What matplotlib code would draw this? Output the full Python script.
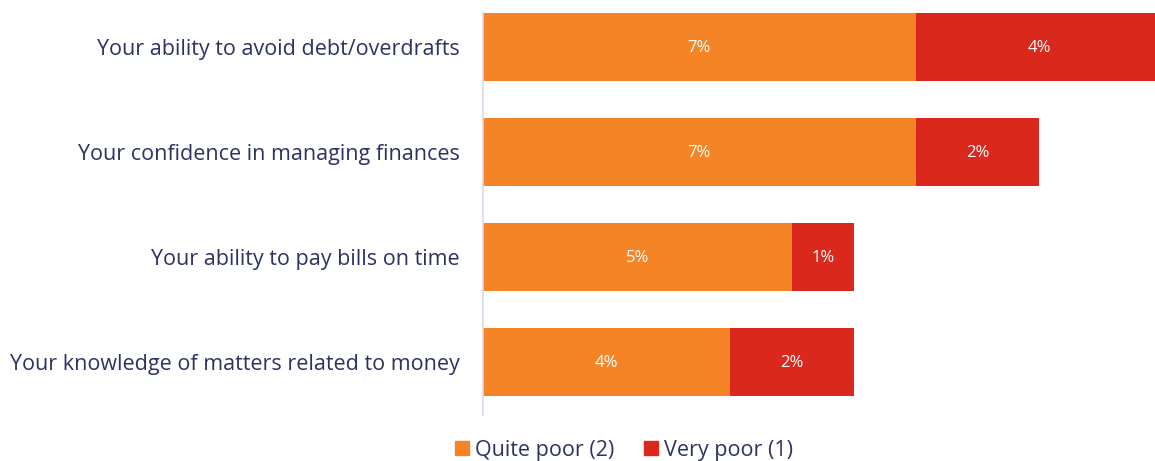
import matplotlib
matplotlib.use("Agg")
import matplotlib.pyplot as plt
from matplotlib.patches import Patch

plt.rcParams["font.family"] = ["Open Sans", "DejaVu Sans"]

categories = [
    "Your ability to avoid debt/overdrafts",
    "Your confidence in managing finances",
    "Your ability to pay bills on time",
    "Your knowledge of matters related to money",
]
quite_poor = [7, 7, 5, 4]
very_poor = [4, 2, 1, 2]

ORANGE = "#F58426"
RED = "#DA291C"
NAVY = "#2D3361"

fig = plt.figure(figsize=(11.55, 4.61), dpi=100)
ax = fig.add_axes([483 / 1155, 1 - 415 / 461, 1 - 483 / 1155, (415 - 13) / 461])

y = list(range(len(categories)))
h = 0.65
ax.barh(y, quite_poor, height=h, color=ORANGE, edgecolor="none")
ax.barh(y, very_poor, left=quite_poor, height=h, color=RED, edgecolor="none")

for i in y:
    ax.text(quite_poor[i] / 2, i + 0.01, f"{quite_poor[i]}%", ha="center", va="center",
            color="white", fontsize=12)
    ax.text(quite_poor[i] + very_poor[i] / 2, i + 0.01, f"{very_poor[i]}%", ha="center",
            va="center", color="white", fontsize=12)

ax.set_xlim(0, 10.87)
ax.set_ylim(3.505, -0.324)
ax.set_yticks(y)
ax.set_yticklabels(categories, fontsize=15.5, color=NAVY)
ax.tick_params(axis="y", length=0, pad=17)
ax.set_xticks([])
for s in ["top", "right", "bottom"]:
    ax.spines[s].set_visible(False)
ax.spines["left"].set_color("#D9D9EE")
ax.spines["left"].set_linewidth(1.2)

handles = [Patch(color=ORANGE, label="Quite poor (2)"),
           Patch(color=RED, label="Very poor (1)")]
fig.legend(handles=handles, loc="center", bbox_to_anchor=(624 / 1155, 1 - 450 / 461),
           ncol=2, frameon=False, fontsize=15.5, labelcolor=NAVY,
           handlelength=0.65, handleheight=0.65, handletextpad=0.3, columnspacing=1.35)

fig.savefig("out.png", dpi=100)
